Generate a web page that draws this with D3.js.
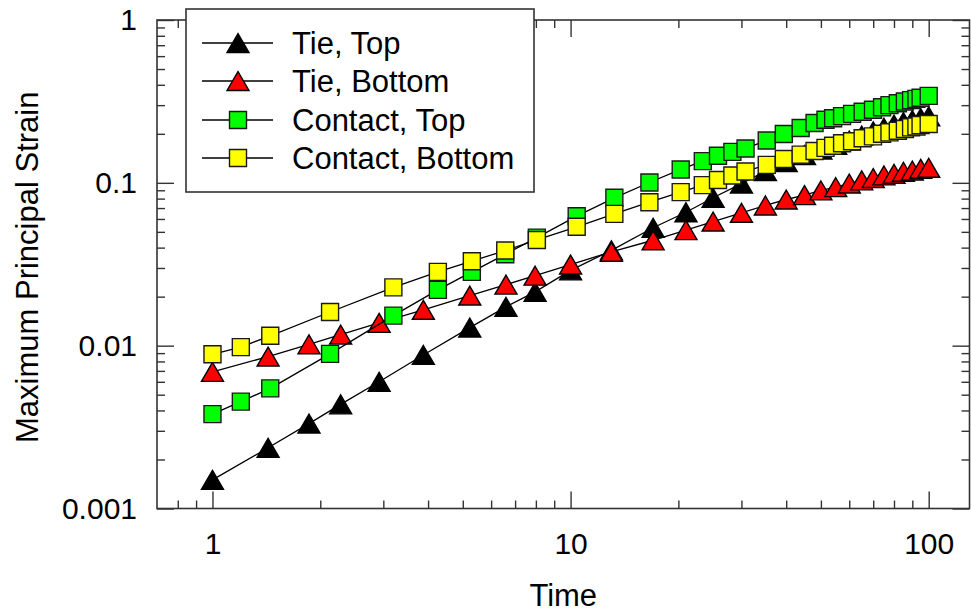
<!DOCTYPE html>
<html>
<head>
<meta charset="utf-8">
<script src="https://cdn.jsdelivr.net/npm/d3@7/dist/d3.min.js"></script>
<style>
  html, body { margin: 0; padding: 0; background: #fff; }
  svg { display: block; font-family: "Liberation Sans", Arial, sans-serif; }
</style>
</head>
<body>
<svg id="chart" width="971" height="614"></svg>
<script>
// Time points of the tie-constraint model
const tieTime = [1, 1.43, 1.86, 2.28, 2.92, 3.88, 5.23, 6.6, 7.96, 10,
  13, 17, 21, 25, 30, 35, 40, 45, 50, 55, 60, 65, 70, 75, 80, 85, 90, 95, 100];
const tieTop = [0.0015, 0.00236, 0.00332, 0.00436, 0.006, 0.00877, 0.0129, 0.0173, 0.0214, 0.029,
  0.0385, 0.053, 0.066, 0.081, 0.099, 0.118, 0.134, 0.148, 0.16, 0.171, 0.182, 0.195, 0.207,
  0.218, 0.228, 0.236, 0.243, 0.25, 0.256];
const tieBottom = [0.0069, 0.00857, 0.0102, 0.0117, 0.0138, 0.0166, 0.0203, 0.0237, 0.0269, 0.0315,
  0.0377, 0.0444, 0.0512, 0.0578, 0.0654, 0.0726, 0.079, 0.084, 0.0898, 0.094, 0.099, 0.1035,
  0.107, 0.111, 0.1136, 0.117, 0.119, 0.122, 0.1236];

// Time points of the contact model
const contactTime = [1, 1.2, 1.45, 2.13, 3.2, 4.26, 5.3, 6.57, 8.05, 10.4,
  13.25, 16.6, 20.3, 23.4, 25.8, 28.3, 30.8, 35.3, 39.4, 43.9, 48, 51.5, 54.1, 57.3,
  61.1, 65.4, 69.9, 74.1, 77.7, 82, 85.8, 89.3, 92.4, 94.9, 100];
const contactTop = [0.0038, 0.00453, 0.00547, 0.0089, 0.0153, 0.022, 0.0284, 0.0364, 0.0461, 0.0624,
  0.0809, 0.1005, 0.1208, 0.136, 0.1466, 0.155, 0.1626, 0.182, 0.1995, 0.217, 0.233, 0.244,
  0.249, 0.257, 0.265, 0.273, 0.281, 0.291, 0.30, 0.308, 0.316, 0.322, 0.328, 0.333, 0.342];
const contactBottom = [0.00885, 0.0098, 0.0115, 0.0161, 0.0228, 0.0284, 0.033, 0.0384, 0.0446, 0.0537,
  0.0645, 0.076, 0.0877, 0.0968, 0.104, 0.111, 0.1175, 0.129, 0.14, 0.149, 0.157, 0.164,
  0.169, 0.175, 0.18, 0.188, 0.193, 0.2, 0.204, 0.209, 0.214, 0.219, 0.222, 0.226, 0.23];

const seriesNames = ["Tie, Top", "Tie, Bottom", "Contact, Top", "Contact, Bottom"];

// Axis ticks
const xMajorTicks = [1, 10, 100];
const xTickLabels = ["1", "10", "100"];
const xMinorTicks = [0.8, 0.9, 2, 3, 4, 5, 6, 7, 8, 9, 20, 30, 40, 50, 60, 70, 80, 90];
const yMajorTicks = [0.001, 0.01, 0.1, 1];
const yTickLabels = ["0.001", "0.01", "0.1", "1"];
const yMinorTicks = [0.002, 0.003, 0.004, 0.005, 0.006, 0.007, 0.008, 0.009,
  0.02, 0.03, 0.04, 0.05, 0.06, 0.07, 0.08, 0.09,
  0.2, 0.3, 0.4, 0.5, 0.6, 0.7, 0.8, 0.9];

const series = [
  { name: seriesNames[0], x: tieTime, y: tieTop, shape: "tri", fill: "#000000" },
  { name: seriesNames[1], x: tieTime, y: tieBottom, shape: "tri", fill: "#ff0000" },
  { name: seriesNames[2], x: contactTime, y: contactTop, shape: "sq", fill: "#00ff00" },
  { name: seriesNames[3], x: contactTime, y: contactBottom, shape: "sq", fill: "#ffff00" }
];

const plot = { left: 157, right: 969.5, top: 20, bottom: 508.5 };
const x = d3.scaleLog().domain([0.7, 130]).range([plot.left, plot.right]);
const y = d3.scaleLog().domain([0.001, 1]).range([plot.bottom, plot.top]);

const svg = d3.select("#chart");
const axisColor = "#333";

// Triangle centred on its bounding box
const boxTriangle = {
  draw(ctx, size) {
    const w = Math.sqrt(size);
    const hw = w / 2, hh = w * 0.43;
    ctx.moveTo(0, -hh);
    ctx.lineTo(hw, hh);
    ctx.lineTo(-hw, hh);
    ctx.closePath();
  }
};
const triSymbol = d3.symbol().type(boxTriangle).size(22 * 22);
const sqSymbol = d3.symbol().type(d3.symbolSquare).size(17 * 17);

function styleAxis(g) {
  g.select(".domain").remove();
  g.selectAll(".tick line").attr("stroke", axisColor).attr("stroke-width", 1.4);
  g.selectAll(".tick text").attr("fill", "#000").attr("font-size", 30)
    .attr("font-family", "'Liberation Sans', Arial, sans-serif");
}

// Bottom axis
svg.append("g").attr("transform", `translate(0,${plot.bottom})`)
  .call(d3.axisBottom(x).tickValues(xMajorTicks).tickSize(-17).tickPadding(24)
    .tickFormat((d, i) => xTickLabels[i]))
  .call(styleAxis);
svg.append("g").attr("transform", `translate(0,${plot.bottom})`)
  .call(d3.axisBottom(x).tickValues(xMinorTicks).tickSize(-8).tickFormat(""))
  .call(styleAxis);
// Top axis
svg.append("g").attr("transform", `translate(0,${plot.top})`)
  .call(d3.axisTop(x).tickValues(xMajorTicks).tickSize(-17).tickFormat(""))
  .call(styleAxis);
svg.append("g").attr("transform", `translate(0,${plot.top})`)
  .call(d3.axisTop(x).tickValues(xMinorTicks).tickSize(-8).tickFormat(""))
  .call(styleAxis);
// Left axis
svg.append("g").attr("transform", `translate(${plot.left},0)`)
  .call(d3.axisLeft(y).tickValues(yMajorTicks).tickSize(-17).tickPadding(20)
    .tickFormat((d, i) => yTickLabels[i]))
  .call(styleAxis);
svg.append("g").attr("transform", `translate(${plot.left},0)`)
  .call(d3.axisLeft(y).tickValues(yMinorTicks).tickSize(-8).tickFormat(""))
  .call(styleAxis);
// Right axis
svg.append("g").attr("transform", `translate(${plot.right},0)`)
  .call(d3.axisRight(y).tickValues(yMajorTicks).tickSize(-17).tickFormat(""))
  .call(styleAxis);
svg.append("g").attr("transform", `translate(${plot.right},0)`)
  .call(d3.axisRight(y).tickValues(yMinorTicks).tickSize(-8).tickFormat(""))
  .call(styleAxis);

// Plot frame
svg.append("rect")
  .attr("x", plot.left).attr("y", plot.top)
  .attr("width", plot.right - plot.left).attr("height", plot.bottom - plot.top)
  .attr("fill", "none").attr("stroke", axisColor).attr("stroke-width", 1.6);

// Axis titles
svg.append("text")
  .attr("x", (plot.left + plot.right) / 2).attr("y", 606)
  .attr("text-anchor", "middle").attr("font-size", 31).text("Time");
svg.append("text")
  .attr("transform", `translate(38,${(plot.top + plot.bottom) / 2 + 3}) rotate(-90)`)
  .attr("text-anchor", "middle").attr("font-size", 31).text("Maximum Principal Strain");

// Series: connecting line, then markers
const line = d3.line().x(d => x(d[0])).y(d => y(d[1]));
series.forEach(s => {
  const pts = s.x.map((t, i) => [t, s.y[i]]);
  const g = svg.append("g");
  g.append("path").datum(pts).attr("d", line)
    .attr("fill", "none").attr("stroke", "#000").attr("stroke-width", 1.3);
  g.selectAll("path.marker").data(pts).join("path")
    .attr("class", "marker")
    .attr("transform", d => `translate(${x(d[0])},${y(d[1])})`)
    .attr("d", s.shape === "tri" ? triSymbol : sqSymbol)
    .attr("fill", s.fill)
    .attr("stroke", s.shape === "tri" ? "#000" : "#1a1a1a")
    .attr("stroke-width", 1.4);
});

// Legend
const legend = svg.append("g");
legend.append("rect")
  .attr("x", 186).attr("y", 9).attr("width", 348).attr("height", 183)
  .attr("fill", "#fff").attr("stroke", axisColor).attr("stroke-width", 1.6);
const rowY = [43, 81, 120, 158];
series.forEach((s, i) => {
  const gy = rowY[i];
  legend.append("line").attr("x1", 202).attr("x2", 273).attr("y1", gy).attr("y2", gy)
    .attr("stroke", "#000").attr("stroke-width", 1.3);
  legend.append("path")
    .attr("transform", `translate(238,${gy})`)
    .attr("d", s.shape === "tri" ? triSymbol : sqSymbol)
    .attr("fill", s.fill)
    .attr("stroke", s.shape === "tri" ? "#000" : "#1a1a1a")
    .attr("stroke-width", 1.4);
  legend.append("text").attr("x", 292).attr("y", gy + 11)
    .attr("font-size", 31).text(s.name);
});
</script>
</body>
</html>
